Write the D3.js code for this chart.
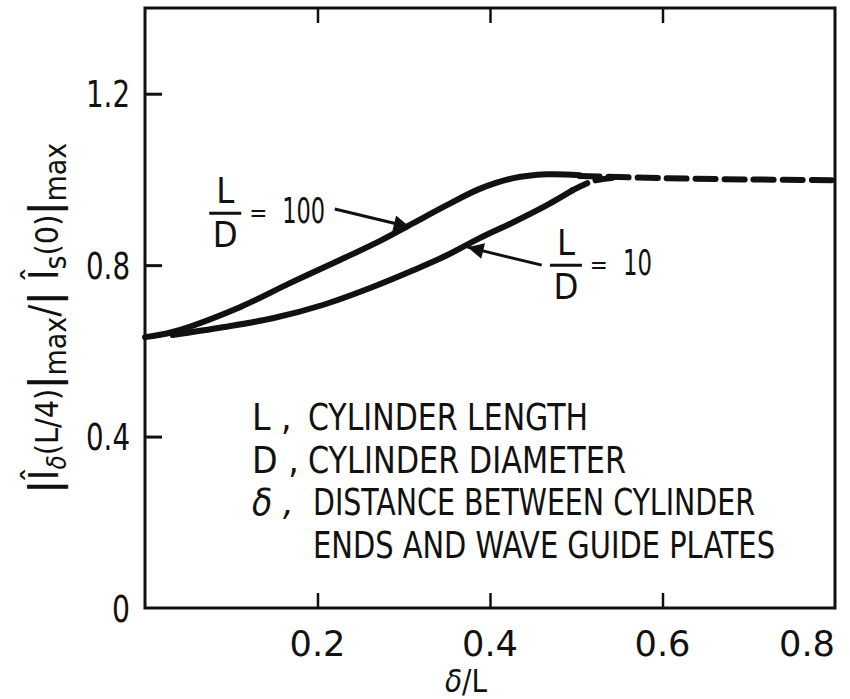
<!DOCTYPE html>
<html>
<head>
<meta charset="utf-8">
<script src="https://cdn.jsdelivr.net/npm/d3@7"></script>
<style>
  body { margin: 0; background: #fff; }
  svg text { font-family: "DejaVu Sans Condensed", "Liberation Sans Narrow", "Liberation Sans", sans-serif; fill: #111; }
</style>
</head>
<body>
<svg id="chart" width="850" height="699"></svg>
<script>
// --- Data ---
// L/D = 100, solid part
const ld100X = [0.0, 0.032, 0.110, 0.168, 0.226, 0.272, 0.311, 0.350, 0.388, 0.427, 0.466, 0.504];
const ld100Y = [0.632, 0.644, 0.702, 0.758, 0.812, 0.856, 0.898, 0.940, 0.978, 1.003, 1.012, 1.010];
// L/D = 10, solid part
const ld10X = [0.032, 0.090, 0.148, 0.206, 0.264, 0.311, 0.350, 0.388, 0.427, 0.466, 0.496];
const ld10Y = [0.637, 0.655, 0.676, 0.707, 0.749, 0.788, 0.823, 0.863, 0.900, 0.940, 0.975];
// dashed continuations
const ld10DashX = [0.496, 0.519, 0.545];
const ld10DashY = [0.975, 0.996, 1.004];
const commonDashX = [0.504, 0.6, 0.7, 0.8];
const commonDashY = [1.008, 1.003, 1.0, 0.998];

const xTicks = [0.2, 0.4, 0.6, 0.8];
const yTicks = [0, 0.4, 0.8, 1.2];
const legendLines = [
  ["L", "CYLINDER LENGTH"],
  ["D", "CYLINDER DIAMETER"],
  ["δ", "DISTANCE BETWEEN CYLINDER"],
  ["", "ENDS AND WAVE GUIDE PLATES"]
];

// --- Scales ---
const svg = d3.select("#chart");
const x = d3.scaleLinear().domain([0, 0.8]).range([145, 835]);
const y = d3.scaleLinear().domain([0, 1.4]).range([608, 8]);

const zip = (xs, ys) => xs.map((v, i) => [v, ys[i]]);
const line = d3.line().x(d => x(d[0])).y(d => y(d[1])).curve(d3.curveCatmullRom.alpha(0.5));

// --- Frame ---
svg.append("rect")
  .attr("x", x(0)).attr("y", y(1.4))
  .attr("width", x(0.8) - x(0)).attr("height", y(0) - y(1.4))
  .attr("fill", "none").attr("stroke", "#111").attr("stroke-width", 3);

// --- Axes (ticks inside) ---
const yAxis = d3.axisRight(y).tickValues(yTicks.filter(t => t > 0)).tickSize(17).tickFormat("");
svg.append("g").attr("transform", `translate(${x(0)},0)`).call(yAxis)
  .call(g => g.select(".domain").remove())
  .selectAll("line").attr("stroke", "#111").attr("stroke-width", 3);

const xAxisB = d3.axisTop(x).tickValues(xTicks.filter(t => t < 0.8)).tickSize(15).tickFormat("");
svg.append("g").attr("transform", `translate(0,${y(0)})`).call(xAxisB)
  .call(g => g.select(".domain").remove())
  .selectAll("line").attr("stroke", "#111").attr("stroke-width", 2.5);

const xAxisT = d3.axisBottom(x).tickValues(xTicks.filter(t => t < 0.8)).tickSize(15).tickFormat("");
svg.append("g").attr("transform", `translate(0,${y(1.4)})`).call(xAxisT)
  .call(g => g.select(".domain").remove())
  .selectAll("line").attr("stroke", "#111").attr("stroke-width", 2.5);

// tick labels
svg.append("g").selectAll("text").data(yTicks).join("text")
  .attr("x", 130).attr("y", d => y(d)).attr("dy", "0.36em")
  .attr("text-anchor", "end").attr("font-size", 38)
  .attr("textLength", d => d === 0 ? 18 : 44).attr("lengthAdjust", "spacingAndGlyphs")
  .text(d => d === 0 ? "0" : d.toFixed(1));

svg.append("g").selectAll("text").data(xTicks).join("text")
  .attr("x", d => x(d)).attr("y", 656)
  .attr("dx", d => d === 0.8 ? -28 : 0)
  .attr("text-anchor", "middle").attr("font-size", 36)
  .attr("textLength", 56).attr("lengthAdjust", "spacingAndGlyphs")
  .text(d => d.toFixed(1));

// x title
const xt = svg.append("text").attr("x", 466).attr("y", 692)
  .attr("text-anchor", "middle").attr("font-size", 32)
  .attr("textLength", 42).attr("lengthAdjust", "spacingAndGlyphs");
xt.append("tspan").attr("font-style", "italic").text("δ");
xt.append("tspan").text("/L");

// y title
const yt = svg.append("text")
  .attr("transform", "translate(58,318) rotate(-90)")
  .attr("text-anchor", "middle").attr("font-size", 40);
yt.append("tspan").attr("font-weight", "bold").text("|");
yt.append("tspan").text("Î");
yt.append("tspan").attr("font-size", 26).attr("font-style", "italic").attr("dy", 8).text("δ");
yt.append("tspan").attr("font-size", 32).attr("dy", -8).text("(L/4)");
yt.append("tspan").attr("font-weight", "bold").text("|");
yt.append("tspan").attr("font-size", 30).attr("dy", 8).text("max");
yt.append("tspan").attr("dy", -8).text("/");
yt.append("tspan").attr("font-weight", "bold").text("|");
yt.append("tspan").text(" Î");
yt.append("tspan").attr("font-size", 30).attr("dy", 8).text("s");
yt.append("tspan").attr("font-size", 32).attr("dy", -8).text("(0)");
yt.append("tspan").attr("font-weight", "bold").text("|");
yt.append("tspan").attr("font-size", 30).attr("dy", 8).text("max");

// --- Curves ---
const curves = svg.append("g").attr("fill", "none").attr("stroke", "#111")
  .attr("stroke-width", 6).attr("stroke-linecap", "round");
curves.append("path").attr("d", line(zip(ld100X, ld100Y)));
curves.append("path").attr("d", line(zip(ld10X, ld10Y)));
curves.append("path").attr("d", line(zip(ld10DashX, ld10DashY))).attr("stroke-dasharray", "16,9");
curves.append("path").attr("d", line(zip(commonDashX, commonDashY))).attr("stroke-dasharray", "20,9");

// --- Annotations ---
svg.append("defs").append("marker")
  .attr("id", "arrow").attr("viewBox", "0 0 10 10")
  .attr("refX", 10).attr("refY", 5)
  .attr("markerWidth", 24).attr("markerHeight", 16)
  .attr("markerUnits", "userSpaceOnUse")
  .attr("orient", "auto")
  .append("path").attr("d", "M0,0L10,5L0,10z").attr("fill", "#111");

const arrows = [
  { from: [0.220, 0.931], to: [0.307, 0.889] },
  { from: [0.460, 0.800], to: [0.374, 0.842] }
];
svg.append("g").selectAll("line").data(arrows).join("line")
  .attr("x1", d => x(d.from[0])).attr("y1", d => y(d.from[1]))
  .attr("x2", d => x(d.to[0])).attr("y2", d => y(d.to[1]))
  .attr("stroke", "#111").attr("stroke-width", 3)
  .attr("marker-end", "url(#arrow)");

// fraction labels L/D = value
const fracLabels = [
  { at: [0.093, 0.921], value: "100", w: 43 },
  { at: [0.488, 0.800], value: "10", w: 29 }
];
fracLabels.forEach(f => {
  const cx = x(f.at[0]), cy = y(f.at[1]);
  const g = svg.append("g");
  g.append("line").attr("x1", cx - 16).attr("x2", cx + 16)
    .attr("y1", cy).attr("y2", cy).attr("stroke", "#111").attr("stroke-width", 3);
  g.append("text").attr("x", cx).attr("y", cy - 10).attr("text-anchor", "middle")
    .attr("font-size", 36).text("L");
  g.append("text").attr("x", cx).attr("y", cy + 34).attr("text-anchor", "middle")
    .attr("font-size", 36).text("D");
  g.append("text").attr("x", cx + 33).attr("y", cy + 8).attr("text-anchor", "middle")
    .attr("font-size", 24).text("=");
  g.append("text").attr("x", cx + 57).attr("y", cy + 10)
    .attr("font-size", 36).attr("textLength", f.w).attr("lengthAdjust", "spacingAndGlyphs")
    .text(f.value);
});

// --- Legend text ---
const legendRows = legendLines.map((r, i) => ({ sym: r[0], text: r[1], baseline: 430 + i * 42.5 }));
const leg = svg.append("g").attr("font-size", 37);
leg.selectAll("text.sym").data(legendRows.filter(r => r.sym)).join("text")
  .attr("class", "sym").attr("x", 252).attr("y", d => d.baseline)
  .attr("font-style", d => d.sym === "δ" ? "italic" : null)
  .text(d => d.sym + " ,");
const widths = [280, 318, 442, 462];
leg.selectAll("text.desc").data(legendRows).join("text")
  .attr("class", "desc").attr("x", (d, i) => i < 2 ? 308 : 313).attr("y", d => d.baseline)
  .attr("textLength", (d, i) => widths[i]).attr("lengthAdjust", "spacingAndGlyphs")
  .text(d => d.text);
</script>
</body>
</html>
